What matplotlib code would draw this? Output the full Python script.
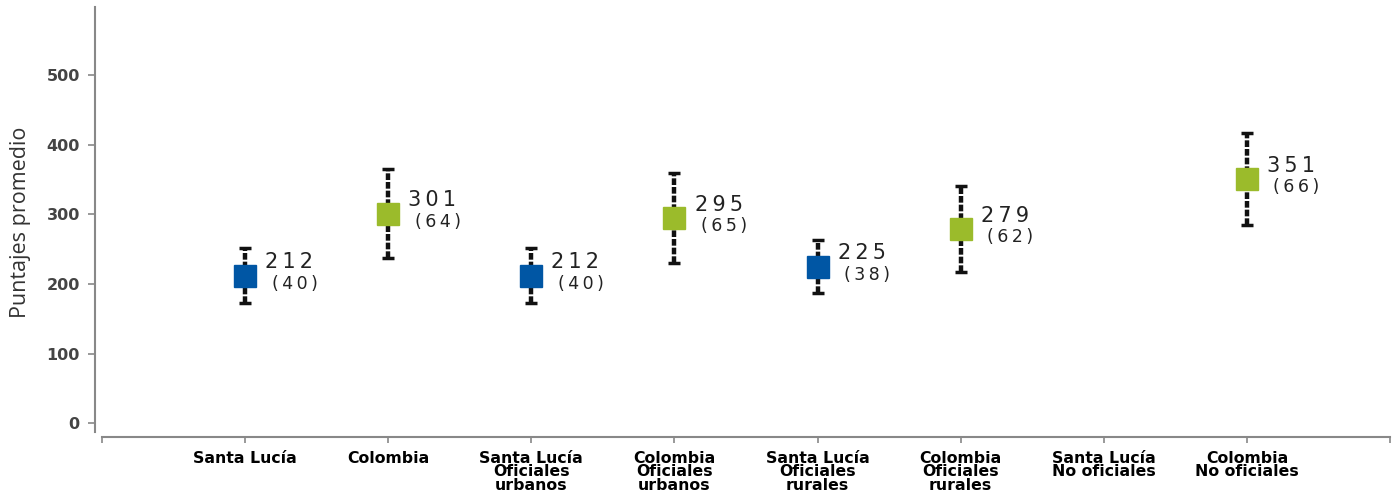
import matplotlib
matplotlib.use("Agg")
import matplotlib.pyplot as plt
import numpy as np

categories = ["Santa Lucía", "Colombia", "Santa Lucía\nOficiales\nurbanos",
              "Colombia\nOficiales\nurbanos", "Santa Lucía\nOficiales\nrurales",
              "Colombia\nOficiales\nrurales", "Santa Lucía\nNo oficiales",
              "Colombia\nNo oficiales"]
means = [212, 301, 212, 295, 225, 279, np.nan, 351]
sds = [40, 64, 40, 65, 38, 62, np.nan, 66]
groups = ["SL", "CO", "SL", "CO", "SL", "CO", "SL", "CO"]
colors = {"SL": "#0056A4", "CO": "#9BBB2B"}
yticks = [0, 100, 200, 300, 400, 500]

TS = "\u2009"
plt.rcParams["font.family"] = ["DejaVu Sans"]

fig = plt.figure(figsize=(13.95, 4.95), dpi=100)
ax = fig.add_axes([102/1395, (495-437)/495, (1390-102)/1395, (437-7)/495])

for sp in ["top", "right"]:
    ax.spines[sp].set_visible(False)
ax.spines["left"].set_position(("outward", 5))
ax.spines["left"].set_color("#888888")
ax.spines["bottom"].set_color("#888888")
ax.spines["left"].set_linewidth(1.5)
ax.spines["bottom"].set_linewidth(1.5)

x = np.arange(1, len(categories) + 1)
for xi, m, s, g in zip(x, means, sds, groups):
    if np.isnan(m):
        continue
    eb = ax.errorbar([xi], [m], yerr=[s], fmt="none", ecolor="#111111",
                     elinewidth=3.2, capsize=4.5, capthick=2.5, zorder=2)
    for lc in eb[2]:
        lc.set_linestyle((0, (1.5, 0.45)))
    ax.plot([xi], [m], marker="s", markersize=16, color=colors[g],
            markeredgecolor=colors[g], linestyle="none", zorder=3)
    ax.annotate(TS.join(f"{m:.0f}"), (xi, m), xytext=(14.5, 9.5),
                textcoords="offset points", fontsize=15, color="#222222",
                va="center", ha="left")
    ax.annotate(TS.join(f"({s:.0f})"), (xi, m), xytext=(19, -6),
                textcoords="offset points", fontsize=12.5, color="#222222",
                va="center", ha="left")

ax.set_xlim(0, 9)
ax.set_ylim(-20, 598)
ax.spines["left"].set_bounds(-13, 598)
ax.set_xticks(np.arange(0, 10))
ax.set_xticklabels([""] + categories + [""], fontsize=11.3, fontweight="bold",
                   linespacing=0.88)
ax.set_yticks(yticks)
ax.set_yticklabels([str(v) for v in yticks], fontsize=11.5, fontweight="bold",
                   color="#444444")
ax.set_ylabel("Puntajes promedio", fontsize=15.5, color="#333333",
              family="Open Sans")
ax.yaxis.set_label_coords(-0.055, 0.5)

ax.tick_params(axis="y", length=5, color="#888888", width=1.2, pad=6)
ax.tick_params(axis="x", length=4, color="#888888", width=1.2, pad=6)

fig.savefig("out.png", dpi=100)
